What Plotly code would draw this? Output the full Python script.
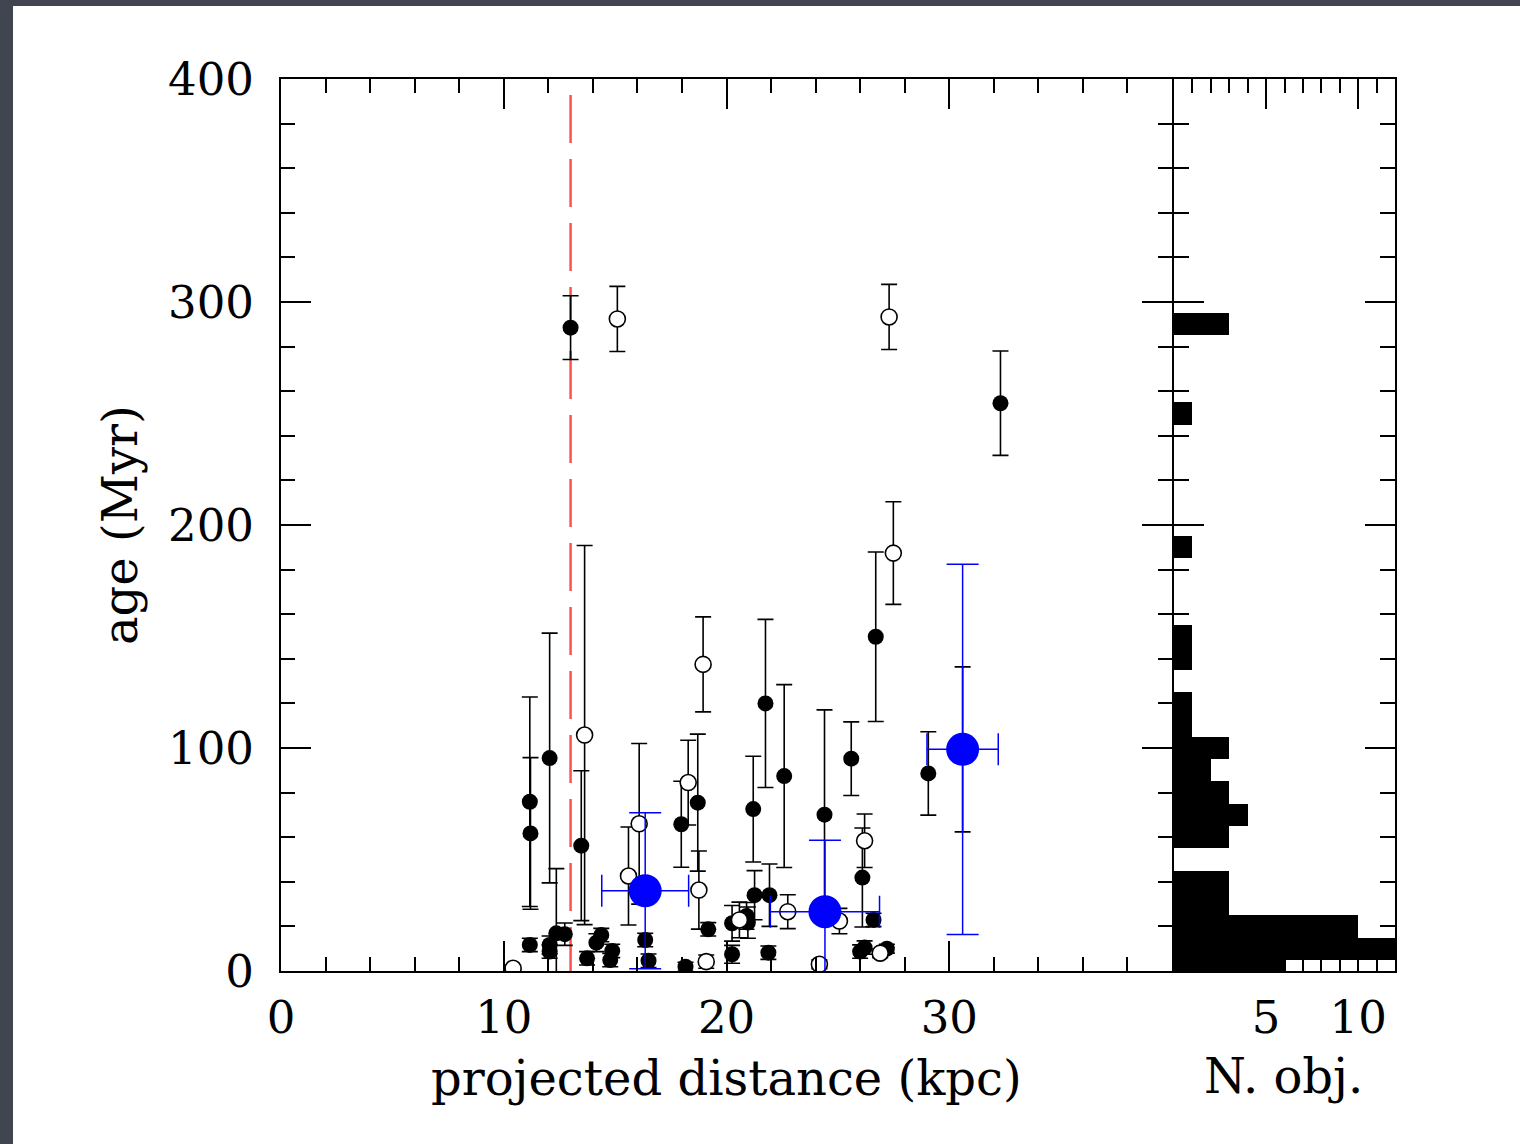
import plotly.graph_objects as go

# ---------------- data ----------------
# filled black points: projected distance (kpc), age (Myr), age error
filled_x = [13.0, 32.3, 26.7, 25.6, 24.4, 26.1, 26.6, 26.0, 26.2, 27.2,
            29.06, 30.6, 21.75, 22.59, 21.2, 17.97, 18.71, 21.26, 21.93, 20.25,
            20.96, 20.9, 19.18, 20.25, 21.88, 18.16, 11.17, 11.2, 12.06, 13.48,
            16.35, 16.5, 11.17, 12.06, 12.06, 12.36, 12.74, 13.74, 14.16, 14.38,
            14.87, 14.78]
filled_age = [288.5, 254.6, 149.9, 95.2, 70.1, 41.9, 22.9, 8.7, 10.5, 10.0,
              88.6, 99.4, 120.0, 87.4, 72.6, 65.8, 75.5, 34.0, 34.0, 21.4,
              21.7, 24.7, 18.7, 7.5, 8.2, 1.9, 75.9, 61.7, 95.5, 56.2,
              13.9, 4.6, 11.7, 11.7, 8.7, 16.9, 16.5, 5.7, 12.7, 16.1,
              9.0, 4.9]
filled_err = [14.3, 23.4, 38.0, 16.5, 47.0, 22.2, 3.0, 3.0, 3.0, 2.0,
              18.7, 37.0, 37.7, 41.0, 23.7, 19.3, 30.7, 11.0, 14.0, 8.0,
              7.0, 6.0, 3.0, 4.0, 3.0, 2.0, 47.0, 34.0, 56.0, 33.6,
              3.0, 3.0, 3.0, 4.0, 3.0, 29.0, 5.0, 3.0, 4.0, 3.0,
              3.0, 3.0]

# open circles
open_x = [15.1, 27.3, 27.49, 26.2, 18.95, 18.28, 18.76, 22.75, 20.58, 19.09,
          24.17, 25.07, 26.9, 16.08, 15.6, 13.63, 10.42]
open_age = [292.4, 293.3, 187.4, 58.4, 137.5, 84.5, 36.3, 26.6, 22.9, 4.2,
            3.0, 22.4, 8.0, 66.0, 42.6, 105.8, 1.2]
open_err = [14.6, 14.6, 23.0, 12.0, 21.3, 19.0, 17.5, 7.6, 8.0, 3.0,
            2.0, 5.7, 2.0, 36.0, 22.0, 85.0, 0.0]

# blue binned means
blue_x = [16.35, 24.42, 30.6]
blue_age = [36.0, 26.6, 99.4]
blue_xerr = [1.95, 2.45, 1.6]
blue_yerr = [35.0, 32.0, 83.0]

# red dashed reference distance
ref_dist = 13.0

# axis labels
x_ticks = [0, 10, 20, 30, 40]
x_ticktext = ["0", "10", "20", "30", ""]
y_ticks = [0, 100, 200, 300, 400]
n_ticks = [0, 5, 10]
n_ticktext = ["", "5", "10"]

# ---------------- figure ----------------
W, H = 1520, 1144
L, R, T, B = 281, 1395, 79, 971
split = (1172 - L) / (R - L)
split2 = (1174 - L) / (R - L)
FONT = "DejaVu Serif"
FS = 45
FS_T = 48


def px_x(px):
    return (px - L) / (R - L)


def px_y(py):
    return (B - py) / (B - T)


fig = go.Figure()

# histogram of ages (right panel)
fig.add_trace(go.Histogram(
    y=filled_age + open_age, xaxis="x2", yaxis="y2",
    ybins=dict(start=-5, end=405, size=10),
    marker=dict(color="black", line=dict(width=0)),
    showlegend=False, hoverinfo="skip"))

# red dashed line
fig.add_trace(go.Scatter(
    x=[ref_dist, ref_dist], y=[-1.8, 400], mode="lines",
    line=dict(color="rgb(255,80,80)", width=2.5, dash="48px,16px"),
    showlegend=False, hoverinfo="skip"))

err_common = dict(type="data", color="black", thickness=1.6, width=8)

fig.add_trace(go.Scatter(
    x=filled_x, y=filled_age, mode="markers",
    marker=dict(color="black", size=16, line=dict(width=0)),
    error_y=dict(array=filled_err, **err_common),
    showlegend=False, cliponaxis=True))

fig.add_trace(go.Scatter(
    x=open_x, y=open_age, mode="markers",
    marker=dict(color="white", size=16, line=dict(color="black", width=1.6)),
    error_y=dict(array=open_err, **err_common),
    showlegend=False, cliponaxis=True))

fig.add_trace(go.Scatter(
    x=blue_x, y=blue_age, mode="markers",
    marker=dict(color="#0000ff", size=33, line=dict(width=0)),
    error_y=dict(type="data", array=blue_yerr, color="#0000ff", thickness=1.5, width=16),
    error_x=dict(type="data", array=blue_xerr, color="#0000ff", thickness=1.5, width=16),
    showlegend=False, cliponaxis=True))

axis_common = dict(
    showline=True, linecolor="black", linewidth=2, mirror="allticks",
    ticks="inside", ticklen=30, tickwidth=1.8, tickcolor="black",
    showgrid=False, zeroline=False,
    tickfont=dict(family=FONT, size=FS, color="black"),
)

fig.update_layout(
    width=W, height=H,
    margin=dict(l=L, r=W - R, t=T, b=H - B),
    paper_bgcolor="#41454f", plot_bgcolor="white",
    bargap=0,
    font=dict(family=FONT, size=FS, color="black"),
    xaxis=dict(domain=[0, split], range=[0, 40], anchor="y",
               tickmode="array", tickvals=x_ticks, ticktext=x_ticktext,
               minor=dict(dtick=2, ticks="inside", ticklen=14, tickwidth=1.8, tickcolor="black"),
               ticklabelstandoff=6, **axis_common),
    yaxis=dict(domain=[0, 1], range=[0, 400], anchor="x",
               tickmode="array", tickvals=y_ticks,
               minor=dict(dtick=20, ticks="inside", ticklen=14, tickwidth=1.8, tickcolor="black"),
               ticklabelstandoff=16, **axis_common),
    xaxis2=dict(domain=[split2, 1], range=[0, 12], anchor="y2",
                tickmode="array", tickvals=n_ticks, ticktext=n_ticktext,
                minor=dict(dtick=1, ticks="inside", ticklen=14, tickwidth=1.8, tickcolor="black"),
                ticklabelstandoff=6, **axis_common),
    yaxis2=dict(domain=[0, 1], range=[0, 400], anchor="x2",
                tickmode="array", tickvals=y_ticks, showticklabels=False,
                minor=dict(dtick=20, ticks="inside", ticklen=15, tickwidth=1.8, tickcolor="black"),
                **axis_common),
    shapes=[dict(type="rect", xref="paper", yref="paper", layer="below",
                 x0=px_x(13), x1=px_x(W + 5), y0=px_y(H + 5), y1=px_y(6),
                 fillcolor="white", line=dict(width=0))],
    annotations=[
        dict(text="projected distance (kpc)", xref="paper", yref="paper",
             x=split / 2, y=px_y(1078), showarrow=False,
             xanchor="center", yanchor="middle", font=dict(family=FONT, size=FS_T)),
        dict(text="N. obj.", xref="paper", yref="paper",
             x=(split + 1) / 2, y=px_y(1076), showarrow=False,
             xanchor="center", yanchor="middle", font=dict(family=FONT, size=FS_T)),
        dict(text="age (Myr)", xref="paper", yref="paper",
             x=px_x(120), y=0.5, showarrow=False, textangle=-90,
             xanchor="center", yanchor="middle", font=dict(family=FONT, size=FS_T)),
    ],
)

fig.write_html("out.html")
